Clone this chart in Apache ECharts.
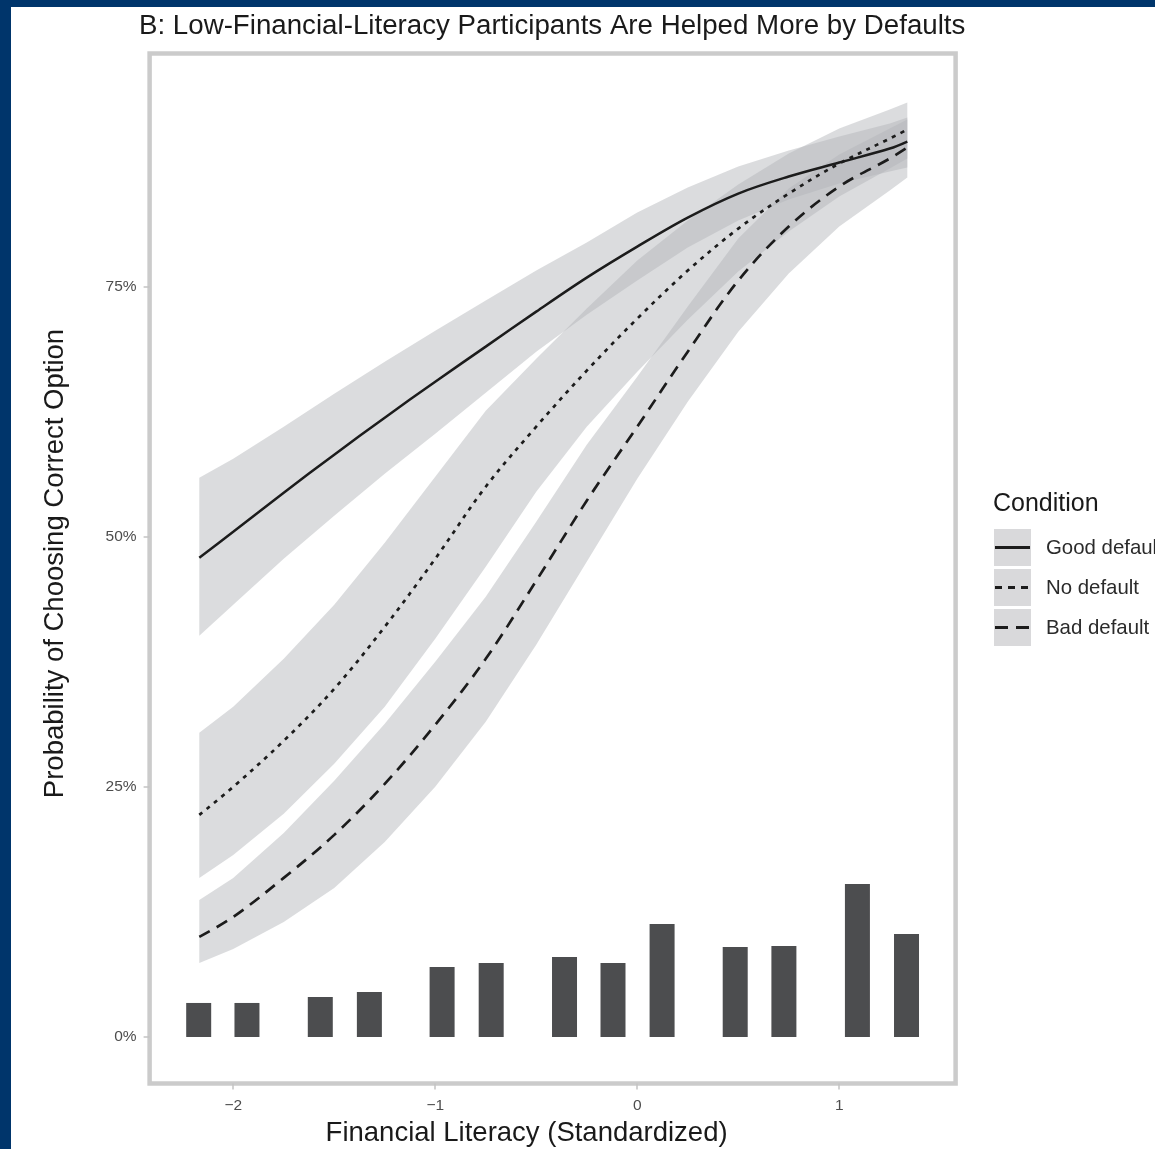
<!DOCTYPE html>
<html>
<head>
<meta charset="utf-8">
<script src="https://cdn.jsdelivr.net/npm/echarts@6/dist/echarts.min.js"></script>
<style>
  html, body { margin: 0; padding: 0; width: 1155px; height: 1149px; background: #00356b; overflow: hidden; }
  #main { position: absolute; left: 11px; top: 7px; width: 1144px; height: 1142px; background: #ffffff; }
</style>
</head>
<body>
<div id="main"></div>
<script>
// ---- data ----
const xs = [-2.168, -2, -1.75, -1.5, -1.25, -1, -0.75, -0.5, -0.25, 0, 0.25, 0.5, 0.75, 1, 1.25, 1.337];

const goodFit = [47.9, 50.5, 54.4, 58.2, 61.9, 65.5, 69.0, 72.5, 75.9, 79.0, 81.9, 84.3, 86.0, 87.4, 88.8, 89.5];
const goodLo  = [40.1, 43.2, 47.8, 52.1, 56.3, 60.3, 64.4, 68.5, 72.2, 75.6, 78.9, 81.6, 83.7, 85.3, 86.5, 86.9];
const goodHi  = [55.9, 57.8, 61.0, 64.3, 67.5, 70.6, 73.6, 76.6, 79.4, 82.4, 84.9, 87.0, 88.6, 90.0, 91.3, 91.9];

const noFit = [22.2, 25.0, 29.6, 34.8, 41.0, 47.8, 55.0, 61.0, 66.6, 71.8, 76.6, 80.8, 84.3, 87.3, 89.8, 90.7];
const noLo  = [15.9, 18.2, 22.3, 27.3, 33.0, 39.8, 47.0, 54.5, 61.0, 66.5, 71.7, 76.5, 80.5, 84.0, 86.8, 87.8];
const noHi  = [30.4, 33.0, 37.8, 43.2, 49.4, 56.0, 62.6, 67.8, 72.8, 77.6, 81.6, 85.2, 88.3, 90.8, 92.7, 93.4];

const badFit = [10.0, 12.0, 15.9, 20.2, 25.3, 31.2, 37.8, 45.6, 53.6, 61.0, 68.5, 75.6, 81.0, 85.0, 87.8, 88.9];
const badLo  = [7.4, 8.8, 11.5, 14.9, 19.5, 25.0, 31.5, 39.2, 47.5, 55.8, 63.5, 70.5, 76.3, 81.0, 84.6, 85.9];
const badHi  = [13.7, 15.9, 20.4, 25.6, 31.3, 37.5, 44.0, 51.5, 59.2, 66.0, 73.0, 79.8, 84.8, 88.2, 90.8, 91.7];

const histX   = [-2.171, -1.932, -1.569, -1.326, -0.966, -0.723, -0.360, -0.120, 0.123, 0.485, 0.726, 1.090, 1.333];
const histPct = [3.4, 3.4, 4.0, 4.5, 7.0, 7.4, 8.0, 7.4, 11.3, 9.0, 9.1, 15.3, 10.3];

const xTicks = [-2, -1, 0, 1];
const yTicks = [0, 25, 50, 75];
const conditions = ['Good default', 'No default', 'Bad default'];

// ---- styling ----
const FONT = "'Liberation Sans', Arial, Helvetica, sans-serif";
const bandFill = 'rgba(178,180,184,0.47)';
const lineColor = '#1c1c1c';
const lineStyles = [
  { type: 'solid', width: 2.5 },
  { type: [4, 5.5], width: 2.7 },
  { type: [12, 8], width: 2.7 }
];

function ribbon(name, lo, hi) {
  return {
    type: 'custom', name: name, silent: true, z: 1,
    data: xs.map((x, i) => [x, lo[i], hi[i]]),
    encode: { x: 0, y: [1, 2] },
    renderItem: function (params, api) {
      if (params.dataIndex !== 0) return null;
      const pts = [];
      for (let i = 0; i < xs.length; i++) pts.push(api.coord([xs[i], hi[i]]));
      for (let i = xs.length - 1; i >= 0; i--) pts.push(api.coord([xs[i], lo[i]]));
      return { type: 'polygon', shape: { points: pts }, style: { fill: bandFill } };
    }
  };
}

function fitLine(name, ys, ls) {
  return {
    type: 'line', name: name, z: 4, silent: true,
    data: xs.map((x, i) => [x, ys[i]]),
    showSymbol: false, symbol: 'none', smooth: 0.35,
    lineStyle: { color: lineColor, width: ls.width, type: ls.type, cap: 'butt' }
  };
}

// legend drawn as graphic (grey key boxes with line samples)
const legendX = 983, legendTop = 522, keySize = 37, keyStep = 40;
const legendGraphics = [{
  type: 'text', left: legendX - 1, top: 485,
  style: { text: 'Condition', font: "25px " + FONT, fill: '#1a1a1a' }
}];
conditions.forEach((c, i) => {
  const y0 = legendTop + i * keyStep;
  legendGraphics.push({
    type: 'rect', shape: { x: legendX, y: y0, width: keySize, height: keySize },
    style: { fill: '#d9d9db' }
  });
  const dash = i === 0 ? null : (i === 1 ? [7, 6] : [13, 8]);
  legendGraphics.push({
    type: 'line', shape: { x1: legendX + 1, y1: y0 + keySize / 2, x2: legendX + keySize - 1, y2: y0 + keySize / 2 },
    style: { stroke: lineColor, lineWidth: 2.8, lineDash: dash, lineCap: 'butt' }
  });
  legendGraphics.push({
    type: 'text', x: legendX + 52, y: y0 + keySize / 2 + 1,
    style: { text: c, font: "20.4px " + FONT, fill: '#2b2b2b', textVerticalAlign: 'middle', verticalAlign: 'middle' }
  });
});

const chart = echarts.init(document.getElementById('main'), null, { renderer: 'canvas' });
chart.setOption({
  animation: false,
  backgroundColor: '#ffffff',
  textStyle: { fontFamily: FONT },
  title: {
    text: 'B: Low-Financial-Literacy Participants Are Helped More by Defaults',
    left: 128, top: 5, padding: 0,
    textStyle: { fontSize: 27.7, fontWeight: 'normal', color: '#1a1a1a', fontFamily: FONT }
  },
  grid: {
    left: 138.6, top: 46.5, width: 806, height: 1030,
    outerBoundsMode: 'none', containLabel: false,
    show: true, borderColor: '#cbcbcb', borderWidth: 4.5, backgroundColor: '#ffffff'
  },
  xAxis: {
    type: 'value', min: -2.414, max: 1.576,
    name: 'Financial Literacy (Standardized)', nameLocation: 'middle', nameGap: 36,
    nameTextStyle: { fontSize: 27.5, color: '#1a1a1a', fontFamily: FONT, padding: [0, 52, 0, 0] },
    axisLine: { show: false, onZero: false },
    splitLine: { show: false },
    axisTick: { show: true, customValues: xTicks, length: 6, lineStyle: { color: '#c4c4c4', width: 1.5 } },
    axisLabel: {
      customValues: xTicks, margin: 14, fontSize: 15.5, color: '#4d4d4d', fontFamily: FONT,
      formatter: v => (v < 0 ? '\u2212' + Math.abs(v) : String(v))
    }
  },
  yAxis: {
    type: 'value', min: -4.65, max: 98.3,
    name: 'Probability of Choosing Correct Option', nameLocation: 'middle', nameGap: 80,
    nameTextStyle: { fontSize: 27.5, color: '#1a1a1a', fontFamily: FONT, padding: [0, 0, 0, 10] },
    axisLine: { show: false, onZero: false },
    splitLine: { show: false },
    axisTick: { show: true, customValues: yTicks, length: 6, lineStyle: { color: '#c4c4c4', width: 1.5 } },
    axisLabel: {
      customValues: yTicks, margin: 13, fontSize: 15.5, color: '#4d4d4d', fontFamily: FONT,
      formatter: v => v + '%'
    }
  },
  graphic: legendGraphics,
  series: [
    ribbon('Good default band', goodLo, goodHi),
    ribbon('No default band', noLo, noHi),
    ribbon('Bad default band', badLo, badHi),
    {
      type: 'bar', name: 'Distribution', z: 2, silent: true,
      data: histX.map((x, i) => [x, histPct[i]]),
      barWidth: 25,
      itemStyle: { color: '#4c4d4f' }
    },
    fitLine(conditions[0], goodFit, lineStyles[0]),
    fitLine(conditions[1], noFit, lineStyles[1]),
    fitLine(conditions[2], badFit, lineStyles[2])
  ]
});
</script>
</body>
</html>
